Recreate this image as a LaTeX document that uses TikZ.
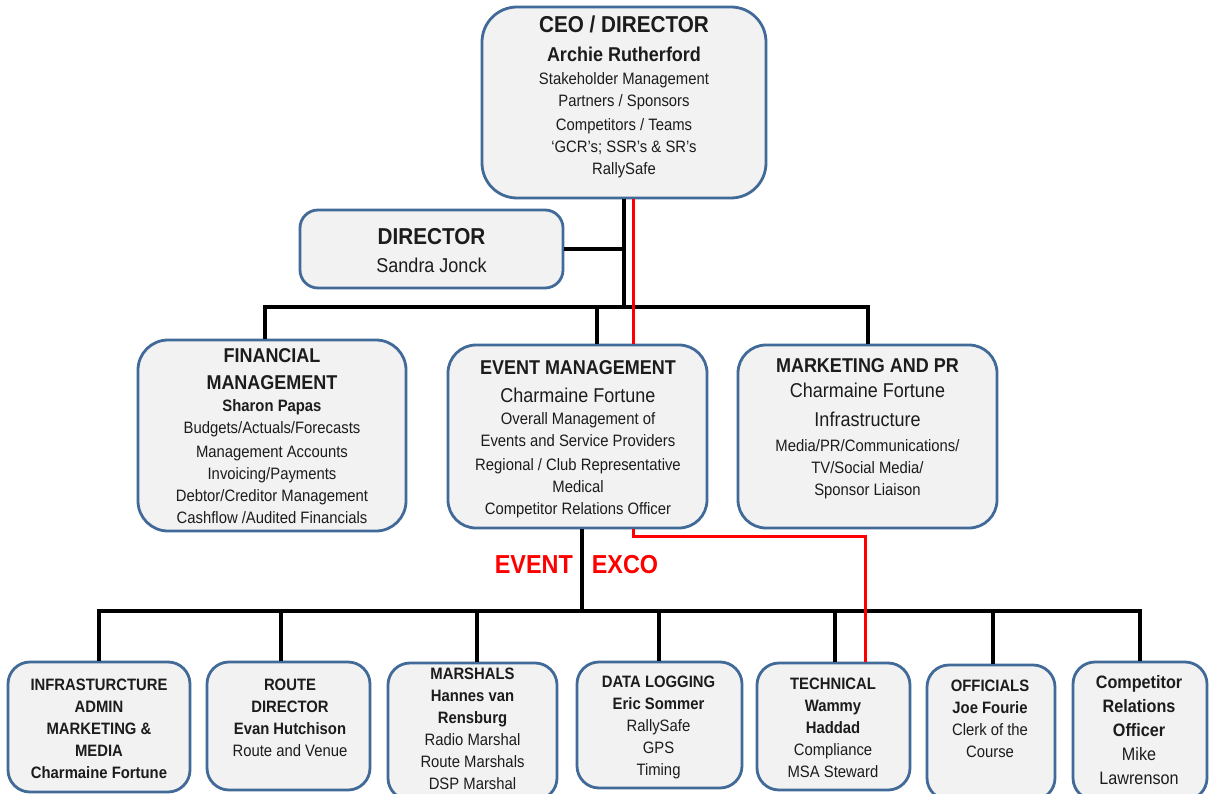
\documentclass[tikz,border=0pt]{standalone}
\usepackage{fontspec}
\setmainfont{Liberation Sans}[FakeStretch=0.9]
\usepackage{xcolor}
\usetikzlibrary{positioning,calc}

\definecolor{boxblue}{RGB}{65,106,153}
\definecolor{boxgray}{RGB}{242,242,242}
\definecolor{txtgray}{RGB}{28,28,28}

\newcommand{\titleL}[1]{{\fontsize{23}{22}\selectfont\bfseries #1}}
\newcommand{\titleM}[1]{{\fontsize{20}{22}\selectfont\bfseries #1}}
\newcommand{\nameM}[1]{{\fontsize{20}{22}\selectfont #1}}

\tikzset{
  box/.style={draw=boxblue, line width=2.8pt, fill=boxgray, inner sep=0pt},
  boxtext/.style={anchor=north, align=center, inner sep=0pt, text=txtgray,
    font=\fontsize{16.5}{22}\selectfont},
  boldtext/.style={boxtext, font=\fontsize{16.5}{22}\selectfont\bfseries},
  trunk/.style={line width=4pt, black},
  excoline/.style={line width=3pt, red},
}

\begin{document}
\begin{tikzpicture}[x=1pt, y=-1pt]
  \useasboundingbox[fill=white] (0,0) rectangle (1209,794);

  % top level
  \node[box, rounded corners=35pt, minimum width=284pt, minimum height=191pt] (ceo) at (624,102.5) {};
  \node[boxtext] (ceo-t) at (624,16) {\titleL{CEO / DIRECTOR}\\[7pt]
    \titleM{Archie Rutherford}\\[1pt]
    Stakeholder Management\\
    Partners / Sponsors\\[2pt]
    Competitors / Teams\\
    `GCR's; SSR's \& SR's\\
    RallySafe};

  \node[box, rounded corners=18pt, minimum width=263pt, minimum height=78pt] (dir) at (431.5,249) {};
  \node[boxtext] (dir-t) at (431.5,228) {\titleL{DIRECTOR}\\[6pt] \nameM{Sandra Jonck}};

  % second level
  \node[box, rounded corners=30pt, minimum width=268pt, minimum height=191pt] (fin) at (272,435.5) {};
  \node[boxtext] (fin-t) at (272,348.4) {\titleM{FINANCIAL}\\[5pt]
    \titleM{MANAGEMENT}\\
    \textbf{Sharon Papas}\\
    Budgets/Actuals/Forecasts\\[2pt]
    Management Accounts\\
    Invoicing/Payments\\
    Debtor/Creditor Management\\
    Cashflow /Audited Financials};

  \node[box, rounded corners=28pt, minimum width=259pt, minimum height=183pt] (event) at (577.5,436.5) {};
  \node[boxtext] (event-t) at (578,360.4) {\titleM{EVENT MANAGEMENT}\\[6pt]
    \nameM{Charmaine Fortune}\\
    Overall Management of\\
    Events and Service Providers\\[2pt]
    Regional / Club Representative\\
    Medical\\
    Competitor Relations Officer};

  \node[box, rounded corners=28pt, minimum width=259pt, minimum height=183pt] (mkt) at (867.5,436.5) {};
  \node[boxtext] (mkt-t) at (867.5,358.4) {\titleM{MARKETING AND PR}\\[3pt]
    \nameM{Charmaine Fortune}\\[7pt]
    \nameM{Infrastructure}\\[3pt]
    Media/PR/Communications/\\
    TV/Social Media/\\
    Sponsor Liaison};

  % event exco row
  \node[box, rounded corners=22pt, minimum width=182pt, minimum height=130pt] (infra) at (99,727) {};
  \node[boldtext] (infra-t) at (99,679) {INFRASTURCTURE\\ ADMIN\\ MARKETING \&\\ MEDIA\\ Charmaine Fortune};

  \node[box, rounded corners=22pt, minimum width=163pt, minimum height=128pt] (route) at (288.5,726) {};
  \node[boxtext] (route-t) at (290,679) {\textbf{ROUTE}\\ \textbf{DIRECTOR}\\ \textbf{Evan Hutchison}\\ Route and Venue};

  \node[box, rounded corners=22pt, minimum width=169pt, minimum height=137pt] (marsh) at (472.5,731.5) {};
  \node[boxtext] (marsh-t) at (472.5,668) {\textbf{MARSHALS}\\ \textbf{Hannes van}\\ \textbf{Rensburg}\\
    Radio Marshal\\ Route Marshals\\ DSP Marshal};

  \node[box, rounded corners=22pt, minimum width=165pt, minimum height=126pt] (data) at (659.5,725) {};
  \node[boxtext] (data-t) at (658.5,676) {\textbf{DATA LOGGING}\\ \textbf{Eric Sommer}\\ RallySafe\\ GPS\\ Timing};

  \node[box, rounded corners=22pt, minimum width=153pt, minimum height=127pt] (tech) at (833.5,726.5) {};
  \node[boxtext] (tech-t) at (833,678) {\textbf{TECHNICAL}\\ \textbf{Wammy}\\ \textbf{Haddad}\\ Compliance\\ MSA Steward};

  \node[box, rounded corners=22pt, minimum width=128pt, minimum height=135pt] (offic) at (991,732.5) {};
  \node[boxtext] (offic-t) at (990,680) {\textbf{OFFICIALS}\\ \textbf{Joe Fourie}\\ Clerk of the\\ Course};

  \node[box, rounded corners=22pt, minimum width=134pt, minimum height=138pt] (comp) at (1140,731) {};
  \node[boxtext, font=\fontsize{18}{24}\selectfont] (comp-t) at (1139,675) {\textbf{Competitor}\\ \textbf{Relations}\\
    \textbf{Officer}\\ Mike\\ Lawrenson};

  % connectors
  \coordinate (busA) at (0,307);
  \coordinate (busB) at (0,611);
  \coordinate (excoY) at (0,536);
  \coordinate (redx) at ([xshift=9]ceo.south);
  \coordinate (redtech) at ([xshift=32]tech.north);

  \draw[trunk] (ceo.south) -- (ceo.south |- busA);
  \draw[trunk] (dir.east) -- (dir.east -| ceo.south);
  \draw[trunk] ([xshift=-7]fin.north) |- (busA -| mkt.north) -- (mkt.north);
  \draw[trunk] ([xshift=19]event.north) -- ([xshift=19]event.north |- busA);

  \draw[trunk] ([xshift=4.5]event.south) -- ([xshift=4.5]event.south |- busB);
  \draw[trunk] (infra.north) |- (busB -| comp.north) -- (comp.north);
  \foreach \n/\s in {route/-8, marsh/4, data/-1, tech/1, offic/2}
    \draw[trunk] ([xshift=\s]\n.north) -- ([xshift=\s]\n.north |- busB);

  \draw[excoline] (redx) -- (redx |- event.north);
  \draw[excoline] (redx |- event.south) |- (redtech |- excoY) -- (redtech);

  \node[anchor=base, red, font=\fontsize{26}{26}\selectfont\bfseries] (exco) at (576.5,573) {EVENT\hspace{19pt}EXCO};
\end{tikzpicture}
\end{document}
